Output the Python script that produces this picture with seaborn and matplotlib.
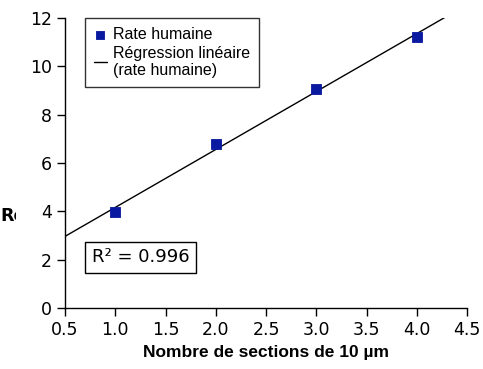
import numpy as np
import pandas as pd
import matplotlib
matplotlib.use("Agg")
import matplotlib.pyplot as plt
import seaborn as sns
from matplotlib.transforms import Bbox

sections = [1.0, 2.0, 3.0, 4.0]
rendement = [3.98, 6.78, 9.06, 11.21]
x_ticks = [0.5, 1.0, 1.5, 2.0, 2.5, 3.0, 3.5, 4.0, 4.5]
y_ticks = [0, 2, 4, 6, 8, 10, 12]
r2_text = "R² = 0.996"

sns.set_style("ticks")
plt.rcParams['font.family'] = ['DejaVu Sans']
plt.rcParams['text.color'] = 'black'
plt.rcParams['axes.labelcolor'] = 'black'

df = pd.DataFrame({"x": sections, "y": rendement})

fig = plt.figure(figsize=(4.83, 3.69), dpi=100)
ax = fig.add_axes([65/483, 1-308/369, (467-65)/483, (308-18)/369])

slope, intercept = np.polyfit(sections, rendement, 1)
xl = np.array([0.5, 4.3])
ax.plot(xl, slope*xl + intercept, color="black", lw=1.0,
        label="Régression linéaire\n(rate humaine)", zorder=2)
sns.scatterplot(data=df, x="x", y="y", marker="s", s=60, color="#0a1aa0",
                edgecolor="#0a1aa0", ax=ax, label="Rate humaine", zorder=3)

ax.set_xlim(0.5, 4.5)
ax.set_ylim(0, 12)
ax.set_xticks(x_ticks)
ax.set_xticklabels([f"{v:.1f}" for v in x_ticks])
ax.set_yticks(y_ticks)
ax.tick_params(labelsize=12.5, length=6, width=1, direction="out", colors="black")
for s in ["top", "right"]:
    ax.spines[s].set_visible(False)
for s in ["left", "bottom"]:
    ax.spines[s].set_linewidth(1)
    ax.spines[s].set_color("black")
ax.set_xlabel("Nombre de sections de 10 µm", fontsize=12.5, fontweight="bold",
              family=["Liberation Sans", "DejaVu Sans"], labelpad=4)
ax.set_ylabel("")

h, l = ax.get_legend_handles_labels()
leg = ax.legend(h[::-1], l[::-1], loc="upper left", bbox_to_anchor=(20/402, 1.0),
                borderaxespad=0.0,
                frameon=True, fancybox=False, edgecolor="black",
                prop={"family": ["Liberation Sans", "DejaVu Sans"], "size": 11.5},
                handlelength=0.8, handletextpad=0.4, borderpad=0.55, labelspacing=0.25,
                markerscale=0.8)
leg.get_frame().set_linewidth(1)
for txt in leg.get_texts():
    txt.set_color("black")

ax.text(1.25, 2.1, r2_text, fontsize=13, ha="center", va="center", color="black",
        bbox=dict(boxstyle="square,pad=0.35", fc="white", ec="black", lw=1))

t = fig.text(0/483, 1-216/369, "Re", fontsize=12.5, fontweight="bold",
             va="center", ha="left", color="black")
t.set_clip_box(Bbox.from_extents(0, 0, 16, 369))
t.set_clip_on(True)

fig.savefig("out.png", dpi=100)
